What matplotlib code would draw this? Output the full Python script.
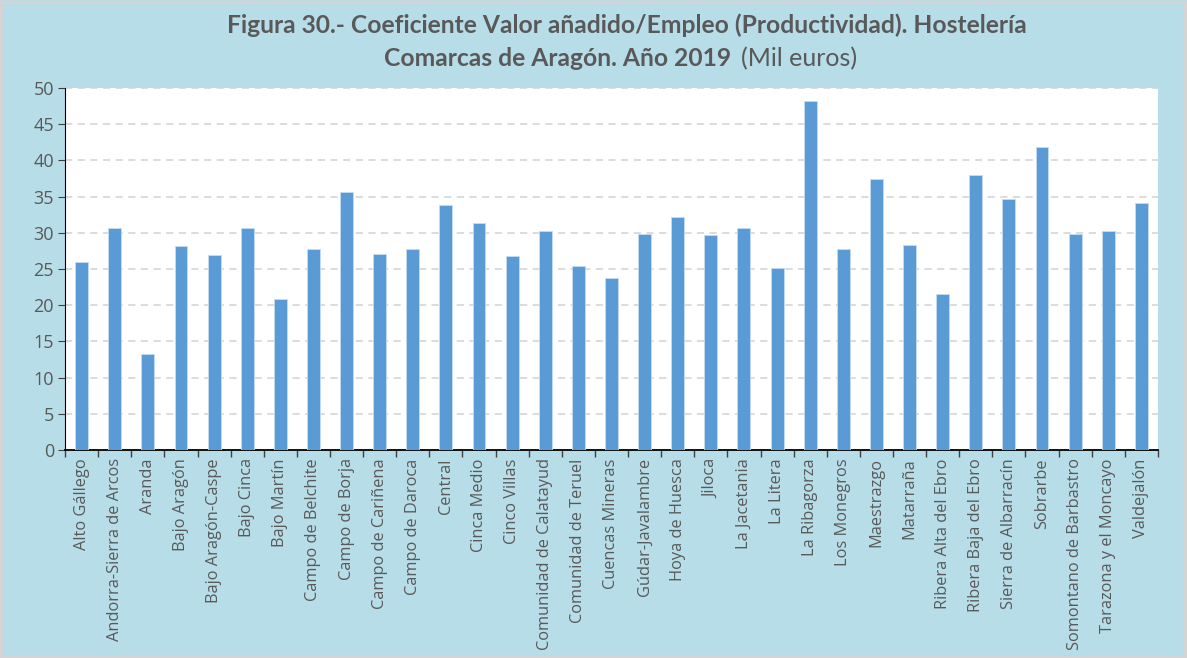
import matplotlib
matplotlib.use('Agg')

import matplotlib.pyplot as plt
from matplotlib.patches import Rectangle

comarcas = ['Alto Gállego', 'Andorra-Sierra de Arcos', 'Aranda', 'Bajo Aragón',
            'Bajo Aragón-Caspe', 'Bajo Cinca', 'Bajo Martín', 'Campo de Belchite',
            'Campo de Borja', 'Campo de Cariñena', 'Campo de Daroca', 'Central',
            'Cinca Medio', 'Cinco Villas', 'Comunidad de Calatayud',
            'Comunidad de Teruel', 'Cuencas Mineras', 'Gúdar-Javalambre',
            'Hoya de Huesca', 'Jiloca', 'La Jacetania', 'La Litera',
            'La Ribagorza', 'Los Monegros', 'Maestrazgo', 'Matarraña',
            'Ribera Alta del Ebro', 'Ribera Baja del Ebro', 'Sierra de Albarracín',
            'Sobrarbe', 'Somontano de Barbastro', 'Tarazona y el Moncayo',
            'Valdejalón']
productividad = [25.9, 30.7, 13.3, 28.2, 26.9, 30.7, 20.9, 27.8, 35.7, 27.1,
                 27.7, 33.9, 31.3, 26.8, 30.2, 25.4, 23.8, 29.9, 32.2, 29.7,
                 30.7, 25.2, 48.2, 27.8, 37.4, 28.3, 21.5, 38.0, 34.7, 41.9,
                 29.8, 30.3, 34.1]
yticks = list(range(0, 55, 5))

bg = '#b7dde8'
txt = '#595959'

fig = plt.figure(figsize=(11.87, 6.58), dpi=100, facecolor=bg)
fig.patches.append(Rectangle((0.001, 0.002), 0.997, 0.995, transform=fig.transFigure,
                             fill=False, edgecolor='#d4d4d4', linewidth=2.5))
ax = fig.add_axes([0.0548, 0.3161, 0.9207, 0.5502])
ax.set_facecolor('white')

x = range(len(comarcas))
ax.bar(x, productividad, width=0.39, color='#5b9bd5', edgecolor='#c6dcf0',
       linewidth=0.6, zorder=3)

ax.set_xlim(-0.5, len(comarcas) - 0.5)
ax.set_ylim(0, 50)
ax.set_yticks(yticks)
ax.yaxis.grid(True, linestyle=(0, (4, 3)), color='#d9d9d9', linewidth=1.3, zorder=0)

ax.set_xticks(list(x))
ax.set_xticklabels(comarcas, rotation=90, fontsize=11.8, color=txt,
                   family='Open Sans')
ax.tick_params(axis='x', which='major', length=0, pad=6)
ax.set_xticks([i - 0.5 for i in range(len(comarcas) + 1)], minor=True)
ax.tick_params(axis='x', which='minor', length=5, color='#404040', width=1)
ax.tick_params(axis='y', length=5, color='#404040', labelsize=13,
               labelcolor=txt, pad=3)
for lab in ax.get_yticklabels():
    lab.set_family('Open Sans')

for side in ['top', 'right']:
    ax.spines[side].set_visible(False)
ax.spines['left'].set_color('black')
ax.spines['bottom'].set_color('black')
ax.spines['bottom'].set_linewidth(1.3)

fig.text(0.528, 0.962, 'Figura 30.- Coeficiente Valor añadido/Empleo (Productividad). Hostelería',
         ha='center', va='center', fontsize=17.7, fontweight='bold', color=txt,
         family='Lato')
fig.text(0.616, 0.911, 'Comarcas de Aragón. Año 2019', ha='right', va='center',
         fontsize=17.7, fontweight='bold', color=txt, family='Lato')
fig.text(0.624, 0.911, '(Mil euros)', ha='left', va='center',
         fontsize=18, color=txt, family='Lato')

fig.savefig('out.png', dpi=100, facecolor=bg)
